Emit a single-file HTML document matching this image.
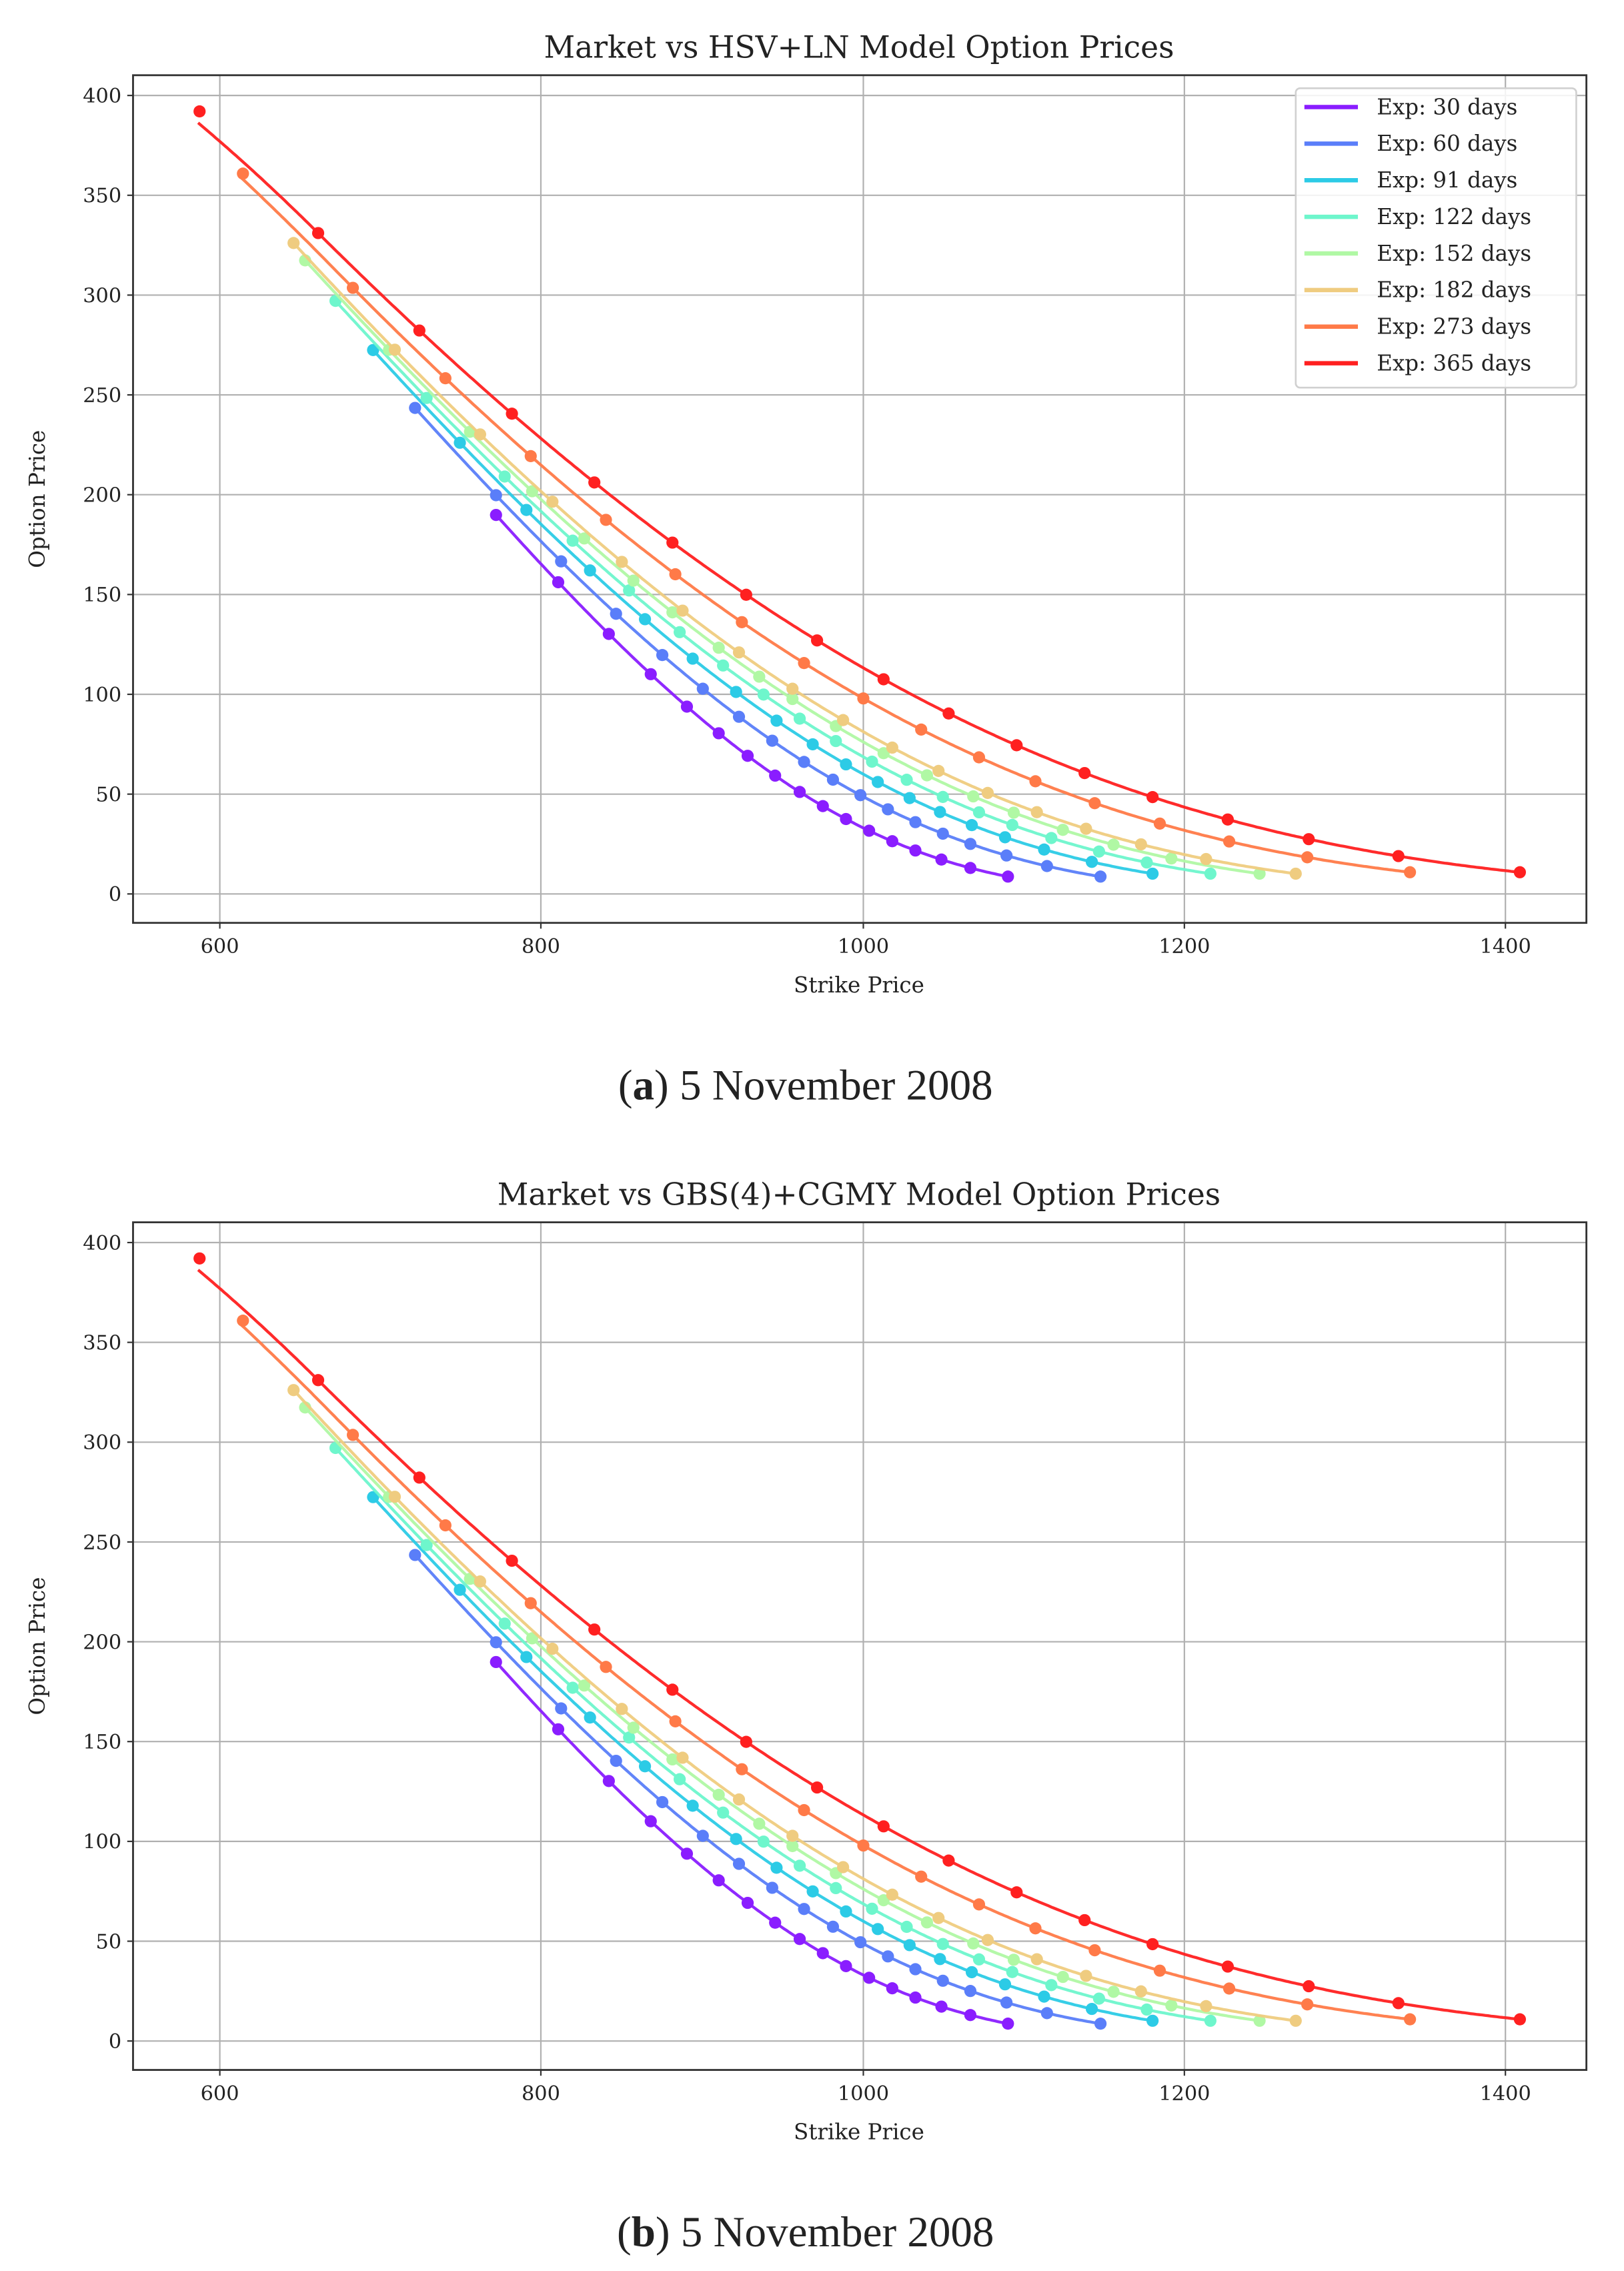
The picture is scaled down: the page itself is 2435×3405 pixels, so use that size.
<!DOCTYPE html>
<html><head><meta charset="utf-8"><style>
html,body{margin:0;padding:0;background:#fff;}
svg{display:block;}
text{font-family:"DejaVu Serif","Liberation Serif",serif;fill:#222;}
</style></head><body>
<svg id="s" width="2435" height="3405" viewBox="0 0 1123 1570" preserveAspectRatio="none" xmlns="http://www.w3.org/2000/svg">
<rect width="1123" height="1570" fill="#fff"/>
<g id="p1"></g>
<g id="p2" transform="translate(0,793)"></g>
<text x="557" y="760" text-anchor="middle" font-size="30" style="font-family:'Liberation Serif',serif">(<tspan font-weight="bold">a</tspan>) 5 November 2008</text>
<text x="557" y="1553" text-anchor="middle" font-size="30" style="font-family:'Liberation Serif',serif">(<tspan font-weight="bold">b</tspan>) 5 November 2008</text>
</svg>
<script>
var NS="http://www.w3.org/2000/svg";
function el(p,t,a,txt){var e=document.createElementNS(NS,t);for(var k in a)e.setAttribute(k,a[k]);if(txt!=null)e.textContent=txt;p.appendChild(e);return e;}
var cols=["#8a1dff","#5a7ef9","#2ccbe6","#6ef6cc","#b0f8a4","#efcc80","#ff7a48","#ff2020"];
var labels=["30","60","91","122","152","182","273","365"];
var T=[30,60,91,122,152,182,273,365].map(function(d){return d/365;});
var S=952;
function N(x){var t=1/(1+0.2316419*Math.abs(x));var d=0.3989423*Math.exp(-x*x/2);var p=d*t*(0.3193815+t*(-0.3565638+t*(1.781478+t*(-1.821256+t*1.330274))));return x>0?1-p:p;}
function bs(K,t,s){var v=s*Math.sqrt(t);var d1=(Math.log(S/K)+0.5*v*v)/v;return S*N(d1)-K*N(d1-v);}
function iv(K,t,P){var lo=0.01,hi=3;for(var i=0;i<80;i++){var m=(lo+hi)/2;if(bs(K,t,m)<P)lo=m;else hi=m;}return (lo+hi)/2;}
function X2K(x){return 600+(x-152)/1.1115;}
function P2Y(P){return 618-P*1.38;}
function Y2P(y){return (618-y)/1.38;}
var XS=[
[343,386,421,450,475,497,517,536,553,569,585,601,617,633,651,671,697],
[287,343,388,426,458,486,511,534,556,576,595,614,633,652,671,696,724,761],
[258,318,364,408,446,479,509,537,562,585,607,629,650,672,695,722,755,797],
[232,295,349,396,435,470,500,528,553,578,603,627,652,677,700,727,760,793,837],
[211,269,325,368,404,438,465,497,525,548,578,611,641,673,701,735,770,810,871],
[203,273,332,382,430,472,511,548,583,617,649,683,717,751,789,834,896],
[168,244,308,367,419,467,513,556,597,637,677,716,757,802,850,904,975],
[138,220,290,354,411,465,516,565,611,656,703,750,797,849,905,967,1051]
];
var ENDS=[[356,606],[282,606],[242,604],[208,604],[180,604],[168,604],[120,603],[77,603]];
var models=[];
for(var i=0;i<8;i++){
  var xs=XS[i];var K0=X2K(xs[0]),K1=X2K(xs[xs.length-1]);
  var s0=iv(K0,T[i],Y2P(ENDS[i][0])),s1=iv(K1,T[i],Y2P(ENDS[i][1]));
  var l0=Math.log(K0),l1=Math.log(K1);
  models.push((function(s0,s1,l0,l1,t){return function(K){var s=s0+(s1-s0)*(Math.log(K)-l0)/(l1-l0);if(s<0.05)s=0.05;return bs(K,t,s);};})(s0,s1,l0,l1,T[i]));
}
function plot(g,title,legend){
  el(g,"text",{x:594,y:40,"text-anchor":"middle","font-size":21},title);
  var xs=[[600,152],[800,374],[1000,597],[1200,819],[1400,1041]];
  xs.forEach(function(t){el(g,"line",{x1:t[1],x2:t[1],y1:52,y2:638,stroke:"#b0b0b0","stroke-width":1});
    el(g,"line",{x1:t[1],x2:t[1],y1:638,y2:642,stroke:"#333"});
    el(g,"text",{x:t[1],y:659,"text-anchor":"middle","font-size":14},t[0]);});
  for(var v=0;v<=400;v+=50){var y=618-v*1.38;
    el(g,"line",{x1:92,x2:1097,y1:y,y2:y,stroke:"#b0b0b0","stroke-width":1});
    el(g,"line",{x1:88,x2:92,y1:y,y2:y,stroke:"#333"});
    el(g,"text",{x:84,y:y+5,"text-anchor":"end","font-size":14},v);}
  el(g,"rect",{x:92,y:52,width:1005,height:586,fill:"none",stroke:"#333","stroke-width":1.3});
  el(g,"text",{x:594,y:686,"text-anchor":"middle","font-size":15},"Strike Price");
  el(g,"text",{x:31,y:345,"text-anchor":"middle","font-size":15,transform:"rotate(-90 31 345)"},"Option Price");
  for(var i=0;i<8;i++){
    var xs=XS[i],x0=xs[0]-1,x1=xs[xs.length-1],d="";
    for(var x=x0;x<=x1;x+=2){var y=P2Y(models[i](X2K(x)));
      if(i==7){var f=Math.max(0,(220-x)/83);y+=9*f*f;}
      else if(i==6){var f=Math.max(0,(230-x)/62);y+=4*f*f;}
      d+=(d?" L":"M")+x.toFixed(1)+","+y.toFixed(1);}
    el(g,"path",{d:d,fill:"none",stroke:cols[i],"stroke-width":2,"stroke-opacity":0.95});
    xs.forEach(function(x){el(g,"circle",{cx:x,cy:P2Y(models[i](X2K(x))),r:4.2,fill:cols[i]});});
  }
  if(legend){
    el(g,"rect",{x:896,y:61,width:194,height:207,rx:3,fill:"#fff","fill-opacity":0.85,stroke:"#d0d0d0","stroke-width":1.2});
    for(var i=0;i<8;i++){var y=74+i*25.3;
      el(g,"line",{x1:902,x2:939,y1:y,y2:y,stroke:cols[i],"stroke-width":3});
      el(g,"text",{x:952,y:y+5,"font-size":15},"Exp: "+labels[i]+" days");}
  }
}
plot(document.getElementById("p1"),"Market vs HSV+LN Model Option Prices",true);
plot(document.getElementById("p2"),"Market vs GBS(4)+CGMY Model Option Prices",false);
</script>
</body></html>
